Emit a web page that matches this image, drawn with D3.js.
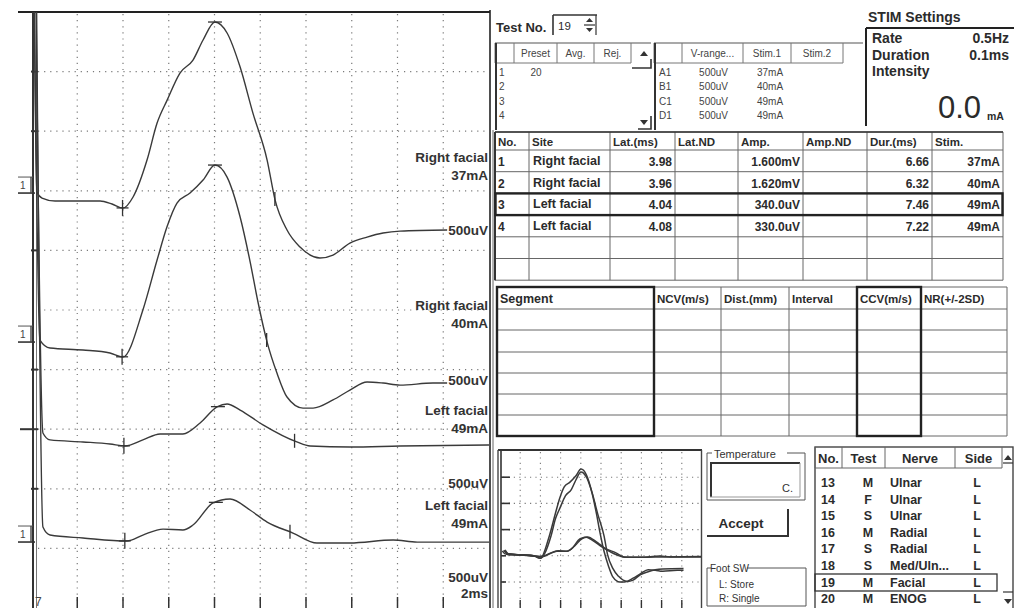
<!DOCTYPE html>
<html>
<head>
<meta charset="utf-8">
<script src="https://cdn.jsdelivr.net/npm/d3@7"></script>
<style>
body { margin: 0; background: #fff; }
svg { display: block; font-family: "Liberation Sans", Arial, sans-serif; }
</style>
</head>
<body>
<svg id="chart" width="1014" height="608"></svg>
<script>
// ---- data ----
var siteNames = ['Right facial', 'Right facial', 'Left facial', 'Left facial'];
var stimText = ['37mA', '40mA', '49mA', '49mA'];
var gainText = '500uV', sweepText = '2ms';
var latMs = [3.98, 3.96, 4.04, 4.08];
var durMs = [6.66, 6.32, 7.46, 7.22];
var peakMs = [8.02, 8.02, 8.15, 8.06];
var ampText = ['1.600mV', '1.620mV', '340.0uV', '330.0uV'];
var baseUv = [3414, 2164, 1393, 587];   // where each channel sits on the 500uV/div screen

// [ms, uV] per trace
var trace1 = [[0.1, 2000], [0.24, 75], [0.46, 25], [1.03, 0], [3.0, 0], [3.52, -25], [4.0, -59], [4.44, 34],
  [5.05, 344], [5.49, 654], [5.93, 847], [6.49, 1074], [7.06, 1183], [7.5, 1351], [8.02, 1502], [8.55, 1410],
  [9.12, 1124], [9.68, 738], [10.3, 344], [10.65, 8], [11.17, -243], [11.74, -386], [12.61, -478], [13.18, -453],
  [13.92, -352], [14.67, -302], [15.37, -268], [16.11, -252], [18.17, -243]];
var trace2 = [[0.12, 3000], [0.37, 84], [0.81, 17], [2.25, 0], [3.43, -25], [4.0, -59], [4.87, 336], [5.49, 755],
  [5.92, 1032], [6.36, 1233], [6.93, 1317], [7.5, 1426], [8.02, 1552], [8.55, 1451], [9.12, 1116], [9.56, 738],
  [9.9, 403], [10.3, 67], [10.73, -193], [11.17, -394], [11.87, -487], [12.31, -487], [13.18, -419], [13.92, -336],
  [14.67, -268], [15.37, -277], [16.11, -294], [17.55, -277], [18.17, -277]];
var trace3 = [[0.18, 4000], [0.5, 75], [0.81, 17], [2.25, 0], [3.43, -17], [4.09, -34], [4.87, 17], [5.62, 67],
  [6.62, 67], [7.37, 159], [8.11, 294], [8.55, 319], [9.12, 268], [10.12, 143], [11.6, 0], [12.18, -34],
  [13.92, -42], [16.11, -34], [20, -25]];
var trace4 = [[0.2, 5000], [0.5, 92], [0.81, 25], [2.25, 0], [4.18, -25], [4.87, 25], [5.75, 75], [6.62, 67],
  [7.06, 109], [7.94, 294], [8.68, 327], [9.55, 235], [10.3, 134], [11.43, 42], [12.48, -42], [13.92, -42],
  [15.81, -17], [16.86, -34], [20, -34]];
var traces = [trace1, trace2, trace3, trace4];

var presetHead = ['Preset', 'Avg.', 'Rej.'];
var presetRows = [['1', '20'], ['2', ''], ['3', ''], ['4', '']];
var vrangeHead = ['V-range...', 'Stim.1', 'Stim.2'];
var vrangeRows = [['A1', '500uV', '37mA'], ['B1', '500uV', '40mA'], ['C1', '500uV', '49mA'], ['D1', '500uV', '49mA']];
var stimKeys = ['Rate', 'Duration', 'Intensity'];
var stimVals = ['0.5Hz', '0.1ms', ''];

var resHead = ['No.', 'Site', 'Lat.(ms)', 'Lat.ND', 'Amp.', 'Amp.ND', 'Dur.(ms)', 'Stim.'];
var segHead = ['Segment', 'NCV(m/s)', 'Dist.(mm)', 'Interval', 'CCV(m/s)', 'NR(+/-2SD)'];

var listNo = [13, 14, 15, 16, 17, 18, 19, 20];
var listTest = ['M', 'F', 'S', 'M', 'S', 'S', 'M', 'M'];
var listNerve = ['Ulnar', 'Ulnar', 'Ulnar', 'Radial', 'Radial', 'Med/Uln...', 'Facial', 'ENOG'];
var listSide = ['L', 'L', 'L', 'L', 'L', 'L', 'L', 'L'];

// ---- helpers ----
var svg = d3.select('#chart');
var ink = '#2b2b2b';

function text(g, x, y, s, size, weight, anchor, fill) {
    return g.append('text').attr('x', x).attr('y', y).text(s)
        .attr('font-size', size).attr('font-weight', weight || 'normal')
        .attr('text-anchor', anchor || 'start').attr('fill', fill || ink);
}

function line(g, x1, y1, x2, y2, w, c) {
    return g.append('line').attr('x1', x1).attr('y1', y1).attr('x2', x2).attr('y2', y2)
        .attr('stroke', c || '#444').attr('stroke-width', w || 1);
}

function gridLines(g, xs, ys, w, c) {
    xs.forEach(v => line(g, v, ys[0], v, ys[ys.length - 1], w, c));
    ys.forEach(v => line(g, xs[0], v, xs[xs.length - 1], v, w, c));
}

function valueAt(pts, t) {
    let i = d3.bisector(d => d[0]).left(pts, t);
    if (i <= 0) return pts[0][1];
    if (i >= pts.length) return pts[pts.length - 1][1];
    let a = pts[i - 1], b = pts[i];
    return a[1] + (b[1] - a[1]) * (t - a[0]) / (b[0] - a[0]);
}

// ---- main waveform screen ----
var x = d3.scaleLinear().domain([0, 20]).range([31.5, 489]);
var y = d3.scaleLinear().domain([0, 5000]).range([608, 12]);
var main = svg.append('g');

svg.append('clipPath').attr('id', 'clipMain')
    .append('rect').attr('x', 33).attr('y', 12).attr('width', 457).attr('height', 596);

var dotted = main.append('g').attr('stroke', '#7a7a7a').attr('stroke-width', 1.2).attr('stroke-dasharray', '1.2 4.9');
d3.range(2, 20, 2).forEach(t => dotted.append('line').attr('x1', x(t)).attr('x2', x(t)).attr('y1', 14).attr('y2', 606));
d3.range(500, 5000, 500).forEach(v => dotted.append('line').attr('x1', 38).attr('x2', 488).attr('y1', y(v)).attr('y2', y(v)));

// bottom ticks
d3.range(2, 20, 2).forEach(t => line(main, x(t), 597, x(t), 608, 1.5, '#333'));

// frame
line(main, 18, 12, 490, 12, 2.2, '#222');
line(main, 33, 12, 33, 608, 2, '#333');
line(main, 36.5, 12, 36.5, 608, 1, '#777');
line(main, 490, 10, 490, 608, 1.6, '#222');

// left side channel marks
[1000, 2000, 3000, 4000, 4500].forEach(v => line(main, 31, y(v), 38, y(v), 2, '#333'));
line(main, 20, y(1500), 38, y(1500), 2, '#333');
[3414, 2164, 587].forEach((b, i) => {
    let yb = y(b) + (i === 2 ? 4 : -8);
    line(main, 18, yb - 16, 33, yb - 16, 1, '#555');
    line(main, 18, yb, 35, yb, 1.6, '#333');
    line(main, 31, yb - 16, 31, yb, 1.4, '#444');
    text(main, 20, yb - 4, '1', 10, 'normal', 'start', '#444');
});
text(main, 35, 606, '7', 12, 'normal', 'start', '#444');

// traces
var traceG = main.append('g').attr('clip-path', 'url(#clipMain)');
traces.forEach((pts, i) => {
    let gen = d3.line().x(d => x(d[0])).y(d => y(d[1] + baseUv[i])).curve(d3.curveMonotoneX);
    traceG.append('path').attr('d', gen(pts)).attr('fill', 'none')
        .attr('stroke', '#3a3a3a').attr('stroke-width', 1.4);

    // onset "+", peak "-", end "|"
    let xo = x(latMs[i]), yo = y(valueAt(pts, latMs[i]) + baseUv[i]);
    line(traceG, xo, yo - 8, xo, yo + 8, 1.3, '#333');
    line(traceG, xo - 6, yo, xo + 6, yo, 1.3, '#333');
    let xp = x(peakMs[i]), yp = y(valueAt(pts, peakMs[i]) + baseUv[i]);
    line(traceG, xp - 7, yp, xp + 7, yp, 1.3, '#333');
    let te = latMs[i] + durMs[i];
    let xe = x(te), ye = y(valueAt(pts, te) + baseUv[i]);
    line(traceG, xe, ye - 7, xe, ye + 7, 1.3, '#333');
});

// right side labels
var nameY = [162, 310, 415, 510], stimY = [180, 328, 433, 528], gainY = [235, 385, 488, 582];
siteNames.forEach((s, i) => {
    text(main, 488, nameY[i], s, 13.5, 'bold', 'end', '#333');
    text(main, 488, stimY[i], stimText[i], 13.5, 'bold', 'end', '#333');
    text(main, 488, gainY[i], gainText, 13.5, 'bold', 'end', '#333');
});
text(main, 488, 598, sweepText, 13.5, 'bold', 'end', '#333');

// ---- right panel ----
var panel = svg.append('g');

// Test No.
text(panel, 496, 32, 'Test No.', 13, 'bold');
line(panel, 553, 15, 597, 15, 1.6, '#333');
line(panel, 553, 15, 553, 35, 1.6, '#333');
text(panel, 558, 30, '19', 11.5, 'normal');
line(panel, 584, 25, 595, 25, 1.2, '#333');
line(panel, 596, 15, 596, 35, 1.2, '#333');
panel.append('path').attr('d', 'M586,22 L589.5,18 L593,22 Z M586,28 L589.5,32 L593,28 Z').attr('fill', '#333');

// preset list
var pxs = [495, 514, 557, 594, 631];
line(panel, 495, 43, 651, 43, 1.2, '#555');
line(panel, 495, 63, 631, 63, 1, '#777');
pxs.forEach(v => line(panel, v, 43, v, 63, 1, '#777'));
line(panel, 496, 43, 496, 130, 2, '#333');
presetHead.forEach((h, i) => text(panel, (pxs[i + 1] + pxs[i + 2]) / 2, 57, h, 10, 'normal', 'middle', '#444'));
panel.append('path').attr('d', 'M640,56 L644,51 L648,56 Z').attr('fill', '#333');
panel.append('path').attr('d', 'M632,68 L651,68 L651,59').attr('fill', 'none').attr('stroke', '#333').attr('stroke-width', 1.6);
panel.append('path').attr('d', 'M640,120 L644,125 L648,120 Z').attr('fill', '#333');
panel.append('path').attr('d', 'M638,129 L651,129 L651,116').attr('fill', 'none').attr('stroke', '#333').attr('stroke-width', 1.6);
presetRows.forEach((r, i) => {
    text(panel, 499, 76 + i * 14.3, r[0], 10, 'normal', 'start', '#444');
    text(panel, 536, 76 + i * 14.3, r[1], 10, 'normal', 'middle', '#444');
});

// V-range list
var vxs = [654, 682, 743, 791, 843, 863];
line(panel, 654, 43, 863, 43, 1.2, '#555');
line(panel, 654, 63, 843, 63, 1, '#777');
vxs.slice(0, 5).forEach(v => line(panel, v, 43, v, 63, 1, '#777'));
line(panel, 655, 43, 655, 130, 2, '#333');
vrangeHead.forEach((h, i) => text(panel, (vxs[i + 1] + vxs[i + 2]) / 2, 57, h, 10, 'normal', 'middle', '#444'));
vrangeRows.forEach((r, i) => {
    let yy = 76 + i * 14.3;
    text(panel, 659, yy, r[0], 10, 'normal', 'start', '#444');
    text(panel, 728, yy, r[1], 10, 'normal', 'end', '#444');
    text(panel, 757, yy, r[2], 10, 'normal', 'start', '#444');
});

// STIM settings
text(panel, 868, 22, 'STIM Settings', 14, 'bold');
line(panel, 866, 28, 1014, 28, 2, '#222');
line(panel, 866, 28, 866, 126, 2, '#222');
stimKeys.forEach((k, i) => {
    text(panel, 872, 43 + i * 16.5, k, 14, 'bold');
    text(panel, 1009, 43 + i * 16.5, stimVals[i], 14, 'bold', 'end');
});
text(panel, 938, 118, '0.0', 31, 'normal');
text(panel, 987, 120, 'mA', 10.5, 'bold');

// results table
var rxs = [495, 529, 610, 675, 738, 803, 867, 932, 1003];
var rys = [132, 150, 171.7, 193.4, 215.1, 236.8, 258.5, 280.2];
var res = panel.append('g');
gridLines(res, rxs, rys, 1, '#666');
line(res, 495, 132, 495, 280.2, 2, '#333');
line(res, 495, 132, 1003, 132, 1.6, '#333');
resHead.forEach((h, i) => text(res, rxs[i] + 3, 146, h, 11.5, 'bold'));
siteNames.forEach((s, i) => {
    let yy = rys[i + 1] + 16;
    text(res, 498, yy, String(i + 1), 12, 'bold');
    text(res, 533, yy - 1, s, 12.5, 'bold');
    text(res, rxs[3] - 3, yy, latMs[i].toFixed(2), 12, 'bold', 'end');
    text(res, rxs[5] - 3, yy, ampText[i], 12, 'bold', 'end');
    text(res, rxs[7] - 3, yy, durMs[i].toFixed(2), 12, 'bold', 'end');
    text(res, rxs[8] - 3, yy, stimText[i], 12, 'bold', 'end');
});
res.append('rect').attr('x', 495.5).attr('y', rys[3]).attr('width', 507).attr('height', rys[4] - rys[3])
    .attr('fill', 'none').attr('stroke', '#222').attr('stroke-width', 2.4);

// segment table
var sxs = [497, 654, 721, 789, 857, 921, 1007];
var sys = [287, 309, 330, 352, 373, 394, 415, 436];
var seg = panel.append('g');
gridLines(seg, sxs, sys, 1, '#666');
segHead.forEach((h, i) => text(seg, sxs[i] + 3, 303, h, i === 0 ? 12.5 : 11.5, 'bold'));
[[497, 654], [857, 921]].forEach(c => seg.append('rect').attr('x', c[0]).attr('y', 287)
    .attr('width', c[1] - c[0]).attr('height', 149).attr('fill', 'none').attr('stroke', '#222').attr('stroke-width', 2.4));

// mini overlay screen
var x2 = d3.scaleLinear().domain([0, 20]).range([500, 702]);
var y2 = d3.scaleLinear().domain([0, 1500]).range([555, 472]);
var mini = panel.append('g');
svg.append('clipPath').attr('id', 'clipMini')
    .append('rect').attr('x', 501).attr('y', 451).attr('width', 200).attr('height', 157);
var mdot = mini.append('g').attr('stroke', '#7a7a7a').attr('stroke-width', 1.1).attr('stroke-dasharray', '1.2 4.2');
d3.range(2, 20, 2).forEach(t => mdot.append('line').attr('x1', x2(t)).attr('x2', x2(t)).attr('y1', 452).attr('y2', 606));
d3.range(1, 6).forEach(k => mdot.append('line').attr('x1', 503).attr('x2', 700).attr('y1', 451 + 26.2 * k).attr('y2', 451 + 26.2 * k));
line(mini, 498, 450, 702, 450, 2, '#333');
line(mini, 498, 450, 498, 608, 1.4, '#444');
line(mini, 501, 450, 501, 608, 1.6, '#333');
line(mini, 701.5, 450, 701.5, 608, 1.4, '#444');
d3.range(1, 6).forEach(k => line(mini, 501, 451 + 26.2 * k, k < 4 ? 510 : 506, 451 + 26.2 * k, 1.6, '#333'));
d3.range(2, 20, 2).forEach(t => line(mini, x2(t), 600, x2(t), 608, 1.4, '#333'));
var miniG = mini.append('g').attr('clip-path', 'url(#clipMini)');
traces.forEach(pts => {
    let gen = d3.line().x(d => x2(d[0])).y(d => y2(d[1])).curve(d3.curveMonotoneX);
    miniG.append('path').attr('d', gen(pts.slice(1))).attr('fill', 'none')
        .attr('stroke', '#3a3a3a').attr('stroke-width', 1.5);
});

// temperature group
var ctl = panel.append('g');
ctl.append('path').attr('d', 'M712,453 L707,453 L707,500 L805,500 L805,453 L787,453')
    .attr('fill', 'none').attr('stroke', '#555').attr('stroke-width', 1);
text(ctl, 714, 458, 'Temperature', 11, 'normal', 'start', '#333');
line(ctl, 710, 463, 800, 463, 2, '#333');
line(ctl, 711, 463, 711, 497, 2, '#333');
line(ctl, 710, 497, 800, 497, 1, '#999');
line(ctl, 800, 463, 800, 497, 1, '#999');
text(ctl, 782, 492, 'C.', 11, 'normal', 'start', '#333');

// accept button
line(ctl, 707, 536, 789, 536, 2, '#333');
line(ctl, 788, 509, 788, 536, 2, '#333');
text(ctl, 741, 528, 'Accept', 13.5, 'bold', 'middle');

// foot switch group
ctl.append('path').attr('d', 'M711,568 L707,568 L707,606 L806,606 L806,568 L747,568')
    .attr('fill', 'none').attr('stroke', '#555').attr('stroke-width', 1);
text(ctl, 710, 572, 'Foot SW', 10, 'normal', 'start', '#333');
text(ctl, 719, 588, 'L: Store', 10, 'normal', 'start', '#333');
text(ctl, 719, 602, 'R: Single', 10, 'normal', 'start', '#333');

// test list
var lxs = [815, 842, 885, 955, 1002];
var list = panel.append('g');
list.append('rect').attr('x', 815).attr('y', 447).attr('width', 198).attr('height', 165)
    .attr('fill', 'none').attr('stroke', '#444').attr('stroke-width', 1.4);
line(list, 815, 468, 1002, 468, 1, '#666');
lxs.forEach(v => line(list, v, 447, v, 468, 1, '#666'));
['No.', 'Test', 'Nerve', 'Side'].forEach((h, i) => text(list, (lxs[i] + lxs[i + 1]) / 2, 463, h, 13, 'bold', 'middle'));
list.append('path').attr('d', 'M1004,460 L1008,455 L1012,460 Z').attr('fill', '#333');
line(list, 1003, 463, 1013, 463, 1.2, '#333');
list.append('path').attr('d', 'M1004,599 L1008,604 L1012,599 Z').attr('fill', '#333');
line(list, 1003, 592, 1013, 592, 1.2, '#333');
listNo.forEach((n, i) => {
    let yy = 487 + i * 16.6;
    text(list, 828, yy, String(n), 12.5, 'bold', 'middle');
    text(list, 868, yy, listTest[i], 12.5, 'bold', 'middle');
    text(list, 890, yy, listNerve[i], 12.5, 'bold');
    text(list, 977, yy, listSide[i], 12.5, 'bold', 'middle');
});
list.append('rect').attr('x', 815).attr('y', 574).attr('width', 182).attr('height', 17)
    .attr('fill', 'none').attr('stroke', '#333').attr('stroke-width', 1.3);

// panel separators
line(panel, 493, 130, 493, 608, 1, '#666');
</script>
</body>
</html>
